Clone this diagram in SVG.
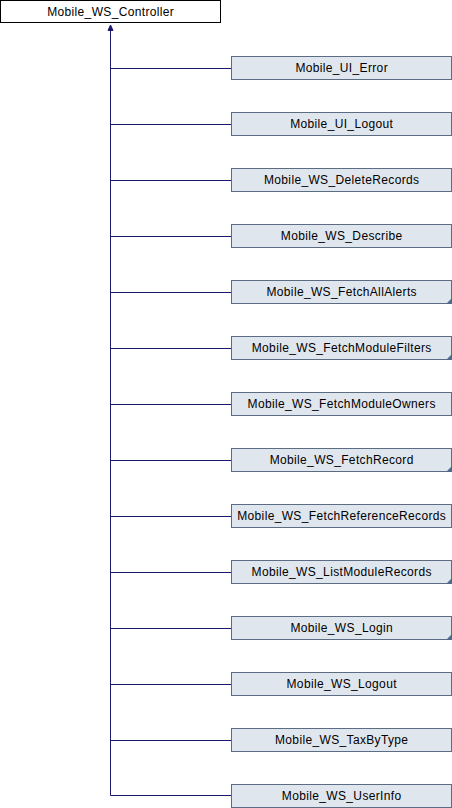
<svg xmlns="http://www.w3.org/2000/svg" width="452" height="808" viewBox="0 0 452 808">
<style>
.root{fill:#ffffff;stroke:#000000;stroke-width:1}
.node{fill:#e0e6ee;stroke:#5b6c83;stroke-width:1}
.corner{fill:#4e6a8a}
.edge{fill:none;stroke:#191970;stroke-width:1}
.head{fill:#191970;stroke:#191970;stroke-width:1}
text{font-family:"Liberation Sans",Arial,sans-serif;font-size:12px;letter-spacing:0.35px;fill:#000000;text-anchor:middle}
</style>
<rect width="452" height="808" fill="#ffffff"/>
<g id="connectors">
<path class="edge" d="M110.5,30 V795.5"/>
<polygon class="head" points="110.5,25 108,30.5 113,30.5"/>
<path class="edge" d="M110.5,68.5 H231 M110.5,124.5 H231 M110.5,180.5 H231 M110.5,236.5 H231 M110.5,292.5 H231 M110.5,348.5 H231 M110.5,404.5 H231 M110.5,460.5 H231 M110.5,516.5 H231 M110.5,572.5 H231 M110.5,628.5 H231 M110.5,684.5 H231 M110.5,740.5 H231 M110.5,795.5 H231"/>
</g>
<g id="Mobile_WS_Controller">
<rect class="root" x="0.5" y="0.5" width="220" height="22"/>
<text x="110.7" y="16">Mobile_WS_Controller</text>
</g>
<g id="Mobile_UI_Error">
<rect class="node" x="231.5" y="56.5" width="220" height="23"/>
<text x="341.7" y="72">Mobile_UI_Error</text>
</g>
<g id="Mobile_UI_Logout">
<rect class="node" x="231.5" y="112.5" width="220" height="23"/>
<text x="341.7" y="128">Mobile_UI_Logout</text>
</g>
<g id="Mobile_WS_DeleteRecords">
<rect class="node" x="231.5" y="168.5" width="220" height="23"/>
<text x="341.7" y="184">Mobile_WS_DeleteRecords</text>
</g>
<g id="Mobile_WS_Describe">
<rect class="node" x="231.5" y="224.5" width="220" height="23"/>
<text x="341.7" y="240">Mobile_WS_Describe</text>
</g>
<g id="Mobile_WS_FetchAllAlerts">
<rect class="node" x="231.5" y="280.5" width="220" height="23"/>
<polygon class="corner" points="452,298 452,304 446,304"/>
<text x="341.7" y="296">Mobile_WS_FetchAllAlerts</text>
</g>
<g id="Mobile_WS_FetchModuleFilters">
<rect class="node" x="231.5" y="336.5" width="220" height="23"/>
<polygon class="corner" points="452,354 452,360 446,360"/>
<text x="341.7" y="352">Mobile_WS_FetchModuleFilters</text>
</g>
<g id="Mobile_WS_FetchModuleOwners">
<rect class="node" x="231.5" y="392.5" width="220" height="23"/>
<text x="341.7" y="408">Mobile_WS_FetchModuleOwners</text>
</g>
<g id="Mobile_WS_FetchRecord">
<rect class="node" x="231.5" y="448.5" width="220" height="23"/>
<polygon class="corner" points="452,466 452,472 446,472"/>
<text x="341.7" y="464">Mobile_WS_FetchRecord</text>
</g>
<g id="Mobile_WS_FetchReferenceRecords">
<rect class="node" x="231.5" y="504.5" width="220" height="23"/>
<text x="341.7" y="520">Mobile_WS_FetchReferenceRecords</text>
</g>
<g id="Mobile_WS_ListModuleRecords">
<rect class="node" x="231.5" y="560.5" width="220" height="23"/>
<polygon class="corner" points="452,578 452,584 446,584"/>
<text x="341.7" y="576">Mobile_WS_ListModuleRecords</text>
</g>
<g id="Mobile_WS_Login">
<rect class="node" x="231.5" y="616.5" width="220" height="23"/>
<polygon class="corner" points="452,634 452,640 446,640"/>
<text x="341.7" y="632">Mobile_WS_Login</text>
</g>
<g id="Mobile_WS_Logout">
<rect class="node" x="231.5" y="672.5" width="220" height="23"/>
<text x="341.7" y="688">Mobile_WS_Logout</text>
</g>
<g id="Mobile_WS_TaxByType">
<rect class="node" x="231.5" y="728.5" width="220" height="23"/>
<text x="341.7" y="744">Mobile_WS_TaxByType</text>
</g>
<g id="Mobile_WS_UserInfo">
<rect class="node" x="231.5" y="784.5" width="220" height="23"/>
<text x="341.7" y="800">Mobile_WS_UserInfo</text>
</g>
</svg>
